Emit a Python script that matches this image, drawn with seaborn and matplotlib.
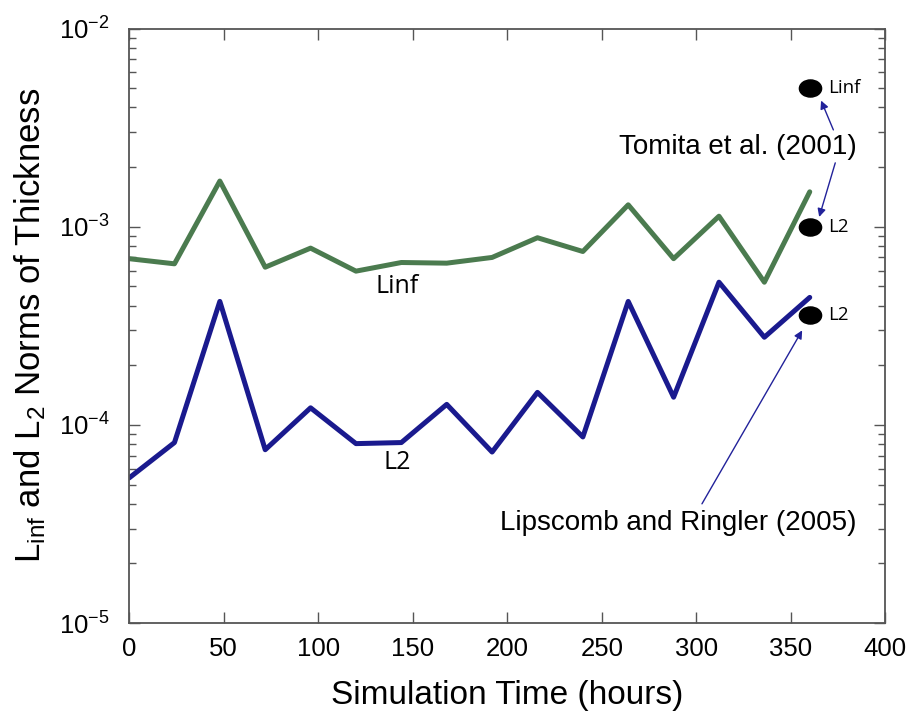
import numpy as np
import pandas as pd
import matplotlib
matplotlib.use("Agg")
import matplotlib.pyplot as plt
import seaborn as sns
from matplotlib.path import Path
from matplotlib.transforms import Affine2D

# ---- data ----
hours = [0, 24, 48, 72, 96, 120, 144, 168, 192, 216, 240, 264, 288, 312, 336, 360]
linf = [6.9e-4, 6.5e-4, 1.70e-3, 6.25e-4, 7.8e-4, 5.97e-4, 6.6e-4, 6.55e-4,
        7.0e-4, 8.8e-4, 7.5e-4, 1.29e-3, 6.9e-4, 1.13e-3, 5.25e-4, 1.50e-3]
l2 = [5.4e-5, 8.15e-5, 4.2e-4, 7.5e-5, 1.22e-4, 8.05e-5, 8.15e-5, 1.27e-4,
      7.3e-5, 1.46e-4, 8.7e-5, 4.2e-4, 1.38e-4, 5.25e-4, 2.77e-4, 4.4e-4]
ref_x = [360, 360, 360]
ref_y = [5.0e-3, 1.0e-3, 3.6e-4]
ref_labels = ["Linf", "L2", "L2"]

df = pd.DataFrame({
    "hours": hours * 2,
    "norm": linf + l2,
    "series": ["Linf"] * len(hours) + ["L2"] * len(hours),
})

sns.set_theme(style="ticks")
plt.rcParams["font.family"] = ["Liberation Sans", "DejaVu Sans"]
plt.rcParams["mathtext.default"] = "regular"
plt.rcParams["axes.unicode_minus"] = False
plt.rcParams["text.color"] = "black"
plt.rcParams["axes.labelcolor"] = "black"

fig = plt.figure(figsize=(9.09, 7.13), dpi=100)
ax = fig.add_axes([0.142, 0.126, 0.832, 0.834])

green = "#4b7b4f"
blue = "#1a1a8e"
arrow_c = "#22229a"

sns.lineplot(data=df, x="hours", y="norm", hue="series",
             palette={"Linf": green, "L2": blue}, linewidth=3.6,
             legend=False, ax=ax, sort=False)

ax.set_yscale("log")
ax.set_xlim(0, 400)
ax.set_ylim(1e-5, 1e-2)
ax.set_xticks([0, 50, 100, 150, 200, 250, 300, 350, 400])

# ellipse marker
ell = Path.unit_circle().transformed(Affine2D().scale(1.3, 1.0))
ax.plot(ref_x, ref_y, linestyle="none", marker=ell, markersize=16,
        color="black", zorder=5)
for x, y, t in zip(ref_x, ref_y, ref_labels):
    ax.annotate(t, (x, y), xytext=(13, 0), textcoords="offset points",
                fontsize=13.5, family=["Open Sans", "DejaVu Sans"],
                va="center", ha="left", color="black")

ax.text(142, 5.0e-4, "Linf", fontsize=18, family=["Open Sans", "DejaVu Sans"],
        ha="center", va="center", color="black")
ax.text(142, 6.45e-5, "L2", fontsize=18, family=["Open Sans", "DejaVu Sans"],
        ha="center", va="center", color="black")

# Tomita annotation
ax.text(322, 2.53e-3, "Tomita et al. (2001)", fontsize=20, ha="center", va="center",
        color="black")
arrowprops = dict(arrowstyle="-|>", color=arrow_c, lw=1.0, mutation_scale=12,
                  shrinkA=0, shrinkB=0)
ax.annotate("", xy=(366, 4.33e-3), xytext=(372.5, 3.08e-3), arrowprops=arrowprops)
ax.annotate("", xy=(365, 1.12e-3), xytext=(373.5, 2.1e-3), arrowprops=arrowprops)

# Lipscomb annotation
ax.text(290.5, 3.2e-5, "Lipscomb and Ringler (2005)", fontsize=20, ha="center",
        va="center", color="black")
ax.annotate("", xy=(356, 3.0e-4), xytext=(303, 4.0e-5), arrowprops=arrowprops)

ax.set_xlabel("Simulation Time (hours)", fontsize=24, labelpad=14)
ax.set_ylabel(r"L$_{inf}$ and L$_2$ Norms of Thickness", fontsize=25, labelpad=8)

ax.tick_params(axis="both", which="both", direction="in", top=True, right=True,
               labelsize=18.5, colors="#555555", labelcolor="black")
ax.tick_params(which="major", length=8, width=1)
ax.tick_params(which="minor", length=5, width=1)
ax.tick_params(axis="x", pad=10)
ax.tick_params(axis="y", pad=14)
for s in ax.spines.values():
    s.set_color("#555555")
    s.set_linewidth(1.3)

fig.savefig("out.png", dpi=100, facecolor="white")
